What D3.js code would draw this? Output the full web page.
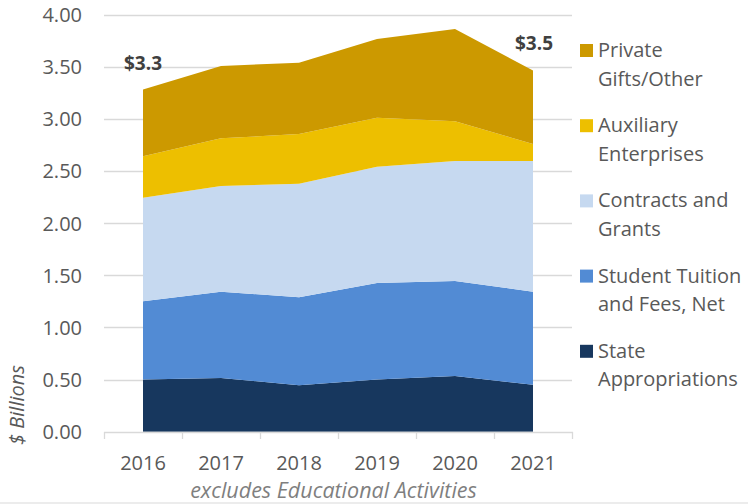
<!DOCTYPE html>
<html><head><meta charset="utf-8">
<script src="https://cdn.jsdelivr.net/npm/d3@7"></script>
<style>body{margin:0;background:#fff}svg{display:block}text{font-family:"Open Sans",sans-serif}</style>
</head><body><svg id="c" width="748" height="504"></svg>
<script>
const years = ["2016","2017","2018","2019","2020","2021"];
const stateApprop = [0.50, 0.515, 0.445, 0.50, 0.535, 0.45];
const tuition     = [0.75, 0.827, 0.844, 0.925, 0.91, 0.893];
const contracts   = [0.992, 1.014, 1.089, 1.115, 1.15, 1.253];
const auxiliary   = [0.40, 0.457, 0.476, 0.47, 0.381, 0.163];
const privateGifts= [0.638, 0.693, 0.684, 0.754, 0.885, 0.703];
const seriesNames = ["State Appropriations","Student Tuition and Fees, Net","Contracts and Grants","Auxiliary Enterprises","Private Gifts/Other"];
const legendLines = [["State","Appropriations"],["Student Tuition","and Fees, Net"],["Contracts and","Grants"],["Auxiliary","Enterprises"],["Private","Gifts/Other"]];
const colors = ["#17375E","#528BD4","#C6D9F0","#EDBF00","#CC9900"];
const yTicks = [0,0.5,1,1.5,2,2.5,3,3.5,4];
const totalLabels = [{year:"2016", text:"$3.3"},{year:"2021", text:"$3.5"}];
const footnote = "excludes Educational Activities";
const yTitle = "$ Billions";

const seriesVals = [stateApprop, tuition, contracts, auxiliary, privateGifts];
const rows = years.map((y,i)=>{const r={year:y}; seriesNames.forEach((n,k)=>r[n]=seriesVals[k][i]); return r;});
const stacked = d3.stack().keys(seriesNames)(rows);

const svg = d3.select("#c");
const x = d3.scaleBand().domain(years).range([104,572]);
const cx = d => x(d)+x.bandwidth()/2;
const y = d3.scaleLinear().domain([0,4]).range([431.7,14.5]);

// grid
svg.append("g").selectAll("line").data(yTicks.filter(t=>t>0)).join("line")
  .attr("x1",104).attr("x2",572).attr("y1",d=>Math.round(y(d))+0.5).attr("y2",d=>Math.round(y(d))+0.5)
  .attr("stroke","#d9d9d9").attr("stroke-width",1.3);

// areas
const area = d3.area().x(d=>cx(d.data.year)).y0(d=>y(d[0])).y1(d=>y(d[1]));
svg.append("g").selectAll("path").data(stacked).join("path")
  .attr("d",area).attr("fill",(d,i)=>colors[i]);

// x axis
const xa = svg.append("g").attr("transform","translate(0,432)")
  .call(d3.axisBottom(x).tickSize(0).tickPadding(0));
xa.select(".domain").remove();
xa.selectAll("text").attr("dy",null).attr("y",38).attr("font-size",20).attr("fill","#595959").style("font-family","'Open Sans',sans-serif");
svg.append("line").attr("x1",104).attr("x2",573).attr("y1",432.5).attr("y2",432.5).attr("stroke","#d9d9d9").attr("stroke-width",1.3);
svg.append("g").selectAll("line").data(years.map(d=>x(d)).concat([572])).join("line")
  .attr("x1",d=>Math.round(d)+0.5).attr("x2",d=>Math.round(d)+0.5).attr("y1",432).attr("y2",439)
  .attr("stroke","#d9d9d9").attr("stroke-width",1.3);

// y axis labels
const ya = svg.append("g").attr("transform","translate(82,0)")
  .call(d3.axisLeft(y).tickValues(yTicks).tickFormat(d3.format(".2f")).tickSize(0).tickPadding(0));
ya.select(".domain").remove();
ya.selectAll("text").attr("font-size",20).attr("fill","#595959").attr("dy","0.35em").style("font-family","'Open Sans',sans-serif");

// y title
svg.append("text").attr("transform","translate(24,405) rotate(-90)").attr("text-anchor","middle")
  .attr("font-size",20).attr("font-style","italic").attr("fill","#595959").text(yTitle);

// footnote
svg.append("text").attr("x",333.5).attr("y",498).attr("text-anchor","middle")
  .attr("font-size",21.5).attr("font-style","italic").attr("fill","#7f7f7f").text(footnote);

// total labels
svg.append("text").attr("x",143).attr("y",70).attr("text-anchor","middle").attr("font-size",19).attr("font-weight","bold").attr("fill","#404040").text(totalLabels[0].text);
svg.append("text").attr("x",534).attr("y",50).attr("text-anchor","middle").attr("font-size",19).attr("font-weight","bold").attr("fill","#404040").text(totalLabels[1].text);

// legend (top to bottom: reverse)
const lg = svg.append("g");
const order = [4,3,2,1,0];
order.forEach((k,j)=>{
  const base = 57 + j*75.2;
  lg.append("rect").attr("x",580).attr("y",base-13).attr("width",13).attr("height",13).attr("fill",colors[k]);
  legendLines[k].forEach((ln,m)=>{
    lg.append("text").attr("x",598).attr("y",base+m*28.5).attr("font-size",20).attr("fill","#595959").text(ln);
  });
});

// bottom border
svg.append("line").attr("x1",0).attr("x2",748).attr("y1",503).attr("y2",503).attr("stroke","#d9d9d9");
</script></body></html>
